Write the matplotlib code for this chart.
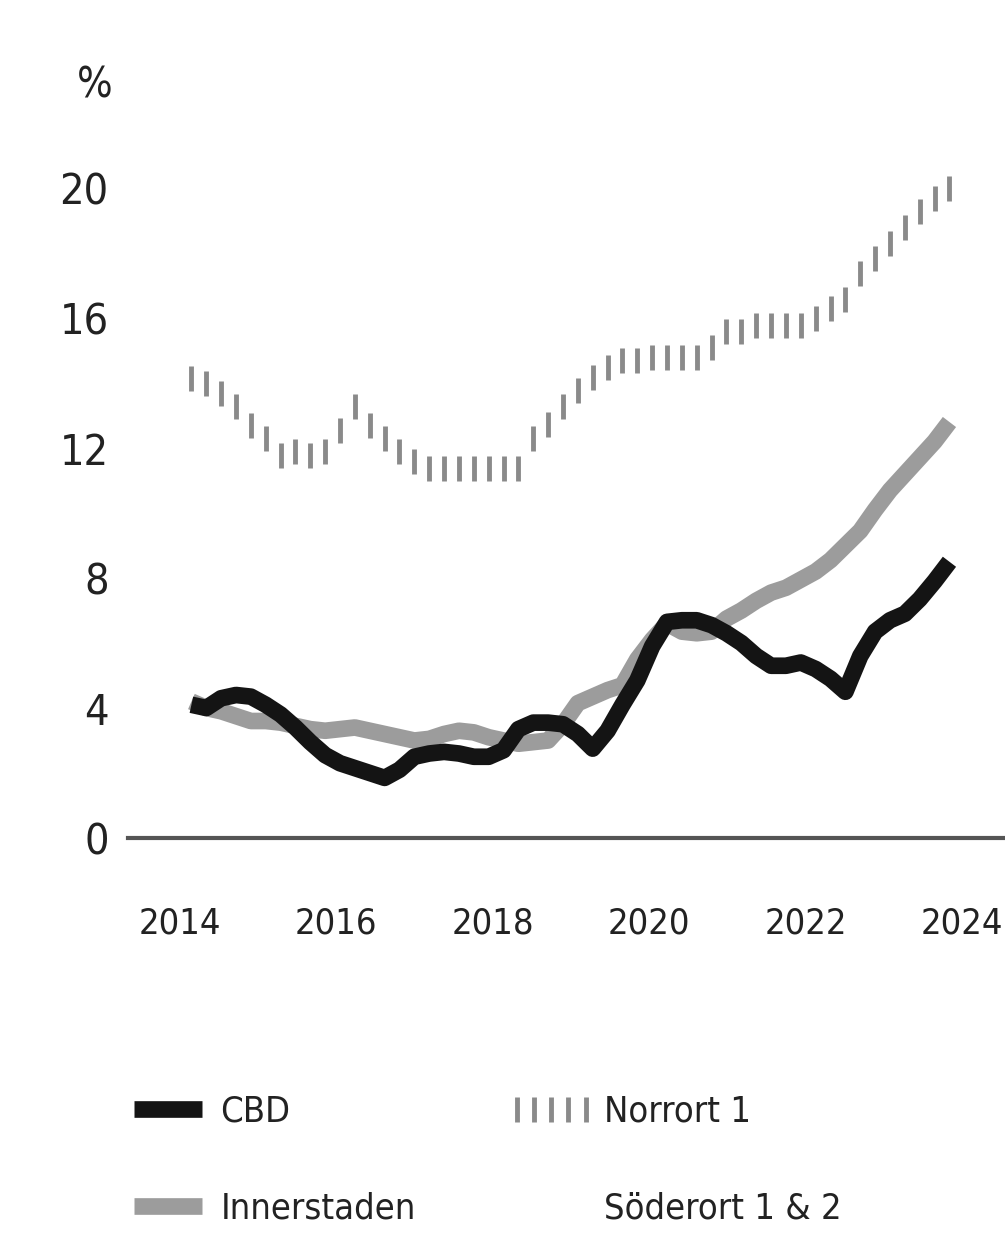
import matplotlib
matplotlib.use("Agg")
import matplotlib.pyplot as plt
from matplotlib import font_manager as fm
import numpy as np

# pick a condensed/narrow face if one is installed
cond_name, cond_stretch = None, 'normal'
for f in fm.fontManager.ttflist:
    st = f.stretch
    narrow = ('Narrow' in f.name or 'Condensed' in f.name or
              st in ('condensed', 'semi-condensed', 'extra-condensed', 'ultra-condensed') or
              (isinstance(st, int) and st < 500))
    if narrow and f.style == 'normal' and f.weight in (400, 'normal', 'regular'):
        cond_name, cond_stretch = f.name, st
        if 'Liberation' in f.name or 'DejaVu' in f.name:
            break
families = ([cond_name] if cond_name else []) + ['Liberation Sans', 'DejaVu Sans']
plt.rcParams['font.family'] = families
plt.rcParams['font.stretch'] = cond_stretch if cond_name else 'normal'

# ---- data ----
n_points = 52
start_year = 2014.15
step_year = 0.19
years = start_year + step_year * np.arange(n_points)

cbd = [4.1, 4.0, 4.3, 4.4, 4.35, 4.1, 3.8, 3.4, 2.95, 2.55,
       2.3, 2.15, 2.0, 1.85, 2.1, 2.5, 2.6, 2.65, 2.6, 2.5,
       2.5, 2.7, 3.35, 3.55, 3.55, 3.5, 3.2, 2.75, 3.3, 4.1,
       4.85, 5.9, 6.65, 6.7, 6.7, 6.55, 6.3, 6.0, 5.6, 5.3,
       5.3, 5.4, 5.2, 4.9, 4.5, 5.6, 6.35, 6.7, 6.9, 7.35,
       7.9, 8.5]

innerstaden = [4.2, 4.0, 3.9, 3.75, 3.6, 3.6, 3.55, 3.45, 3.35, 3.3,
               3.35, 3.4, 3.3, 3.2, 3.1, 3.0, 3.05, 3.2, 3.3, 3.25,
               3.1, 3.0, 2.9, 2.95, 3.0, 3.5, 4.15, 4.35, 4.55, 4.7,
               5.5, 6.1, 6.6, 6.35, 6.3, 6.35, 6.75, 7.0, 7.3, 7.55,
               7.7, 7.95, 8.2, 8.55, 9.0, 9.45, 10.1, 10.7, 11.2, 11.7,
               12.2, 12.8]

norrort = [14.15, 14.0, 13.7, 13.3, 12.7, 12.3, 11.8, 11.9, 11.8, 11.9,
           12.55, 13.3, 12.7, 12.3, 11.9, 11.6, 11.4, 11.4, 11.4, 11.4,
           11.4, 11.4, 11.4, 12.3, 12.75, 13.3, 13.8, 14.2, 14.5, 14.7,
           14.7, 14.8, 14.8, 14.8, 14.8, 15.1, 15.6, 15.6, 15.8, 15.8,
           15.8, 15.8, 16.0, 16.3, 16.6, 17.4, 17.85, 18.3, 18.8, 19.3,
           19.7, 20.0]

soderort = []  # not visible in the reference

series_labels = ['CBD', 'Innerstaden', 'Norrort 1', 'Söderort 1 & 2']
x_ticks = [2014, 2016, 2018, 2020, 2022, 2024]
y_ticks = [0, 4, 8, 12, 16, 20]
unit_label = '%'

# ---- figure ----
fig = plt.figure(figsize=(10.05, 12.45), dpi=100)
ax = fig.add_axes([0.1274, 0.3269, 0.8726, 0.5743])

h_inner, = ax.plot(years, innerstaden, color='#9c9c9c', lw=12, solid_capstyle='butt',
                   solid_joinstyle='round', label=series_labels[1], zorder=2)
h_cbd, = ax.plot(years, cbd, color='#141414', lw=12, solid_capstyle='butt',
                 solid_joinstyle='round', label=series_labels[0], zorder=3)
h_nor, = ax.plot(years, norrort, linestyle='none', marker='|', markersize=18,
                 markeredgewidth=3.5, color='#8a8a8a', label=series_labels[2], zorder=2)
h_sod, = ax.plot(years[:len(soderort)], soderort, color='white', lw=8,
                 label=series_labels[3])

ax.set_xlim(2013.34, 2024.55)
ax.set_ylim(0, 22)
ax.set_xticks(x_ticks)
ax.set_xticklabels([str(t) for t in x_ticks])
ax.set_yticks(y_ticks)
ax.set_yticklabels([str(t) for t in y_ticks])

for s in ['top', 'right', 'left']:
    ax.spines[s].set_visible(False)
ax.spines['bottom'].set_color('#555555')
ax.spines['bottom'].set_linewidth(3)

ax.tick_params(axis='both', length=0, colors='#222222')
ax.tick_params(axis='x', labelsize=26, pad=49)
ax.tick_params(axis='y', labelsize=31, pad=14)

fig.text(0.094, 1 - 85 / 1245, unit_label, ha='center', va='center',
         fontsize=30, color='#222222')

fig.legend(handles=[h_cbd, h_inner, h_nor, h_sod],
           labels=series_labels, ncol=2, frameon=False,
           loc='upper left', bbox_to_anchor=(0.09, 0.147),
           fontsize=26, handlelength=2.5, handletextpad=0.2,
           labelspacing=1.75, columnspacing=2.5, numpoints=5,
           labelcolor='#222222')

fig.savefig('out.png', dpi=100)
